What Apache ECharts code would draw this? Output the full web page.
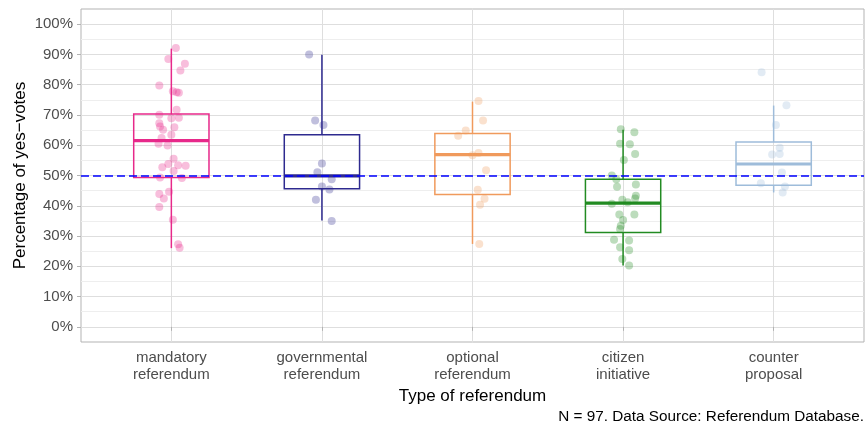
<!DOCTYPE html>
<html>
<head>
<meta charset="utf-8">
<script src="https://cdn.jsdelivr.net/npm/echarts@6/dist/echarts.min.js"></script>
<style>
  html, body { margin: 0; padding: 0; background: #ffffff; }
  #chart { width: 866px; height: 429px; }
</style>
</head>
<body>
<div id="chart"></div>
<script>
// Referendum types shown on the x axis
const categories = ['mandatory\nreferendum', 'governmental\nreferendum', 'optional\nreferendum', 'citizen\ninitiative', 'counter\nproposal'];
const typeColors = ['#E7298A', '#2E2A8F', '#F09A5C', '#228B22', '#9EBCDA'];
const yTicks = [0, 10, 20, 30, 40, 50, 60, 70, 80, 90, 100];
const yMinorTicks = [5, 15, 25, 35, 45, 55, 65, 75, 85, 95];
const majorityLine = 50;

// Box statistics per type: [lower whisker, Q1, median, Q3, upper whisker] in %
const boxMandatory    = [26.0, 49.3, 61.5, 70.3, 91.9];
const boxGovernmental = [35.1, 45.6, 49.9, 63.5, 89.9];
const boxOptional     = [27.4, 43.7, 56.9, 63.9, 74.4];
const boxCitizen      = [20.3, 31.2, 40.9, 48.8, 65.1];
const boxCounter      = [44.4, 46.8, 53.8, 61.1, 73.1];

// Share of yes-votes (%) per referendum, with its horizontal jitter (category units)
const yesMandatory = [92.1, 88.5, 86.9, 84.7, 79.7, 77.8, 77.5, 77.3, 71.7, 70.1, 68.9, 69.1, 67.3, 66.2, 65.1, 65.9, 63.5, 62.4, 60.5, 59.9, 55.5, 53.8, 52.7, 53.4, 53.2, 51.5, 49.3, 49.2, 44.6, 43.9, 42.4, 39.6, 35.4, 27.3, 26.1];
const jitMandatory = [0.03, -0.02, 0.09, 0.06, -0.08, 0.01, 0.035, 0.05, 0.035, -0.08, 0.0, 0.05, -0.08, -0.075, -0.055, 0.02, 0.0, -0.065, -0.085, -0.025, 0.015, -0.02, -0.06, 0.045, 0.095, 0.015, -0.075, 0.07, -0.015, -0.08, -0.05, -0.08, 0.01, 0.045, 0.055];

const yesGovernmental = [90.0, 68.2, 66.7, 54.0, 51.1, 48.8, 46.4, 45.4, 42.0, 35.0];
const jitGovernmental = [-0.085, -0.045, 0.01, 0.0, -0.03, 0.065, 0.0, 0.05, -0.04, 0.065];

const yesOptional = [74.6, 68.2, 64.9, 63.1, 56.7, 57.4, 51.7, 45.3, 42.3, 40.3, 27.4];
const jitOptional = [0.04, 0.07, -0.045, -0.095, 0.0, 0.04, 0.09, 0.035, 0.08, 0.05, 0.045];

const yesCitizen = [65.3, 64.3, 60.5, 60.3, 57.1, 55.1, 50.0, 48.8, 46.3, 47.0, 43.3, 42.4, 42.0, 41.2, 40.7, 37.1, 37.1, 35.3, 33.4, 32.3, 28.8, 28.5, 26.3, 25.3, 22.4, 20.3];
const jitCitizen = [-0.015, 0.075, -0.02, 0.045, 0.08, 0.005, -0.075, -0.045, -0.04, 0.085, 0.085, 0.08, -0.005, 0.03, -0.075, -0.025, 0.075, 0.0, -0.015, -0.02, -0.06, 0.04, -0.02, 0.04, -0.005, 0.04];

const yesCounter = [84.1, 73.2, 66.7, 59.2, 56.9, 57.1, 51.0, 47.4, 46.4, 44.4];
const jitCounter = [-0.08, 0.085, 0.015, 0.04, -0.01, 0.04, 0.055, -0.085, 0.075, 0.06];

const boxes = [boxMandatory, boxGovernmental, boxOptional, boxCitizen, boxCounter];
const yesShares = [yesMandatory, yesGovernmental, yesOptional, yesCitizen, yesCounter];
const jitters = [jitMandatory, jitGovernmental, jitOptional, jitCitizen, jitCounter];

const caption = 'N = 97. Data Source: Referendum Database.';
const FONT = '"Liberation Sans", Arial, Helvetica, sans-serif';
const BOX_WIDTH = 0.5;

// Box and whiskers drawn through the axes' own coordinate mapping
function renderBox(params, api) {
  const x = api.value(0);
  const lo = api.coord([x, api.value(1)]);
  const q1 = api.coord([x, api.value(2)]);
  const med = api.coord([x, api.value(3)]);
  const q3 = api.coord([x, api.value(4)]);
  const hi = api.coord([x, api.value(5)]);
  const half = api.size([BOX_WIDTH, 0])[0] / 2;
  const color = typeColors[params.dataIndex];
  const line = { stroke: color, lineWidth: 1.5, fill: null };
  return {
    type: 'group',
    children: [
      { type: 'line', shape: { x1: hi[0], y1: hi[1], x2: q3[0], y2: q3[1] }, style: line },
      { type: 'line', shape: { x1: q1[0], y1: q1[1], x2: lo[0], y2: lo[1] }, style: line },
      { type: 'rect', shape: { x: q3[0] - half, y: q3[1], width: 2 * half, height: q1[1] - q3[1] },
        style: { stroke: color, lineWidth: 1.5, fill: 'rgba(255,255,255,0)' } },
      { type: 'line', shape: { x1: med[0] - half, y1: med[1], x2: med[0] + half, y2: med[1] },
        style: { stroke: color, lineWidth: 3.2 } }
    ]
  };
}

const boxData = boxes.map((b, i) => [i + 1].concat(b));

const pointSeries = yesShares.map((vals, i) => ({
  type: 'scatter',
  xAxisIndex: 0,
  yAxisIndex: 1,
  symbolSize: 8,
  silent: true,
  z: 4,
  itemStyle: { color: typeColors[i], opacity: 0.3, borderWidth: 0 },
  data: vals.map((v, k) => [i + 1 + jitters[i][k], v])
}));

const chart = echarts.init(document.getElementById('chart'), null, { renderer: 'canvas' });

chart.setOption({
  animation: false,
  backgroundColor: '#ffffff',
  textStyle: { fontFamily: FONT },
  title: {
    text: caption,
    right: 2,
    top: 409,
    padding: 0,
    textStyle: { fontFamily: FONT, fontSize: 15.3, fontWeight: 'normal', color: '#000000' }
  },
  grid: {
    left: 81, top: 9, width: 783, height: 333,
    show: true, borderColor: '#B3B3B3', borderWidth: 1, backgroundColor: 'transparent'
  },
  xAxis: [{
    type: 'value',
    min: 0.4,
    max: 5.6,
    axisLine: { show: false },
    axisTick: { show: true, customValues: [1, 2, 3, 4, 5], length: 4, lineStyle: { color: '#B3B3B3', width: 1 } },
    axisLabel: {
      customValues: [1, 2, 3, 4, 5],
      formatter: v => categories[Math.round(v) - 1],
      color: '#4D4D4D', fontSize: 15, lineHeight: 17, margin: 7, fontFamily: FONT
    },
    splitLine: { show: true, lineStyle: { color: '#DEDEDE', width: 1 } },
    name: 'Type of referendum',
    nameLocation: 'middle',
    nameGap: 45,
    nameTextStyle: { color: '#000000', fontSize: 17, fontFamily: FONT }
  }],
  yAxis: [{
    // minor grid lines halfway between labelled values
    type: 'value',
    min: -5,
    max: 105,
    axisLine: { show: false },
    axisTick: { show: false, customValues: yMinorTicks },
    axisLabel: { show: false, customValues: yMinorTicks },
    splitLine: { show: true, lineStyle: { color: '#EEEEEE', width: 1 } }
  }, {
    type: 'value',
    min: -5,
    max: 105,
    position: 'left',
    axisLine: { show: false },
    axisTick: { show: true, customValues: yTicks, length: 4, lineStyle: { color: '#B3B3B3', width: 1 } },
    axisLabel: {
      customValues: yTicks,
      formatter: v => v + '%',
      color: '#4D4D4D', fontSize: 15, margin: 8, fontFamily: FONT
    },
    splitLine: { show: true, lineStyle: { color: '#DEDEDE', width: 1 } },
    name: 'Percentage of yes\u2212votes',
    nameLocation: 'middle',
    nameMoveOverlap: false,
    nameGap: 52,
    nameTextStyle: { color: '#000000', fontSize: 17, fontFamily: FONT }
  }],
  series: [{
    type: 'custom',
    xAxisIndex: 0,
    yAxisIndex: 1,
    silent: true,
    z: 3,
    renderItem: renderBox,
    encode: { x: 0, y: [1, 2, 3, 4, 5] },
    data: boxData
  }].concat(pointSeries).concat([{
    type: 'line',
    xAxisIndex: 0,
    yAxisIndex: 1,
    data: [],
    z: 6,
    markLine: {
      silent: true,
      symbol: ['none', 'none'],
      label: { show: false },
      lineStyle: { color: '#0000FF', type: [8, 4], width: 1.7 },
      data: [{ yAxis: majorityLine }]
    }
  }])
});
</script>
</body>
</html>
